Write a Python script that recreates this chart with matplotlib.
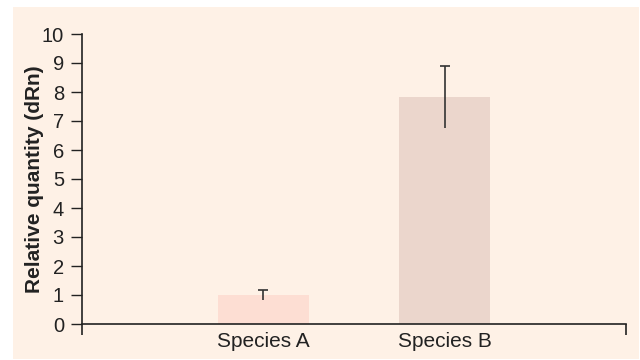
import matplotlib
matplotlib.use("Agg")
import matplotlib.pyplot as plt
from matplotlib.patches import Rectangle

categories = ["Species A", "Species B"]
values = [1.0, 7.83]
errors = [0.16, 1.07]
bar_colors = ["#FDDED3", "#EBD6CC"]
yticks = list(range(0, 11))

plt.rcParams['font.family'] = ['Liberation Sans', 'DejaVu Sans']

fig = plt.figure(figsize=(6.4, 3.6), dpi=100)
fig.patch.set_facecolor("white")
bg = Rectangle((13/640, 1/360), 626/640, 352/360,
               transform=fig.transFigure, facecolor="#FEF1E6",
               edgecolor="none", zorder=-10)
fig.add_artist(bg)

ax = fig.add_axes([82/640, 1 - 324/360, 544/640, 290/360])
ax.set_zorder(1)
ax.set_facecolor("none")
x = [1, 2]
ax.bar(x, values, width=0.5, color=bar_colors, zorder=2)
ax.errorbar(x, values, yerr=errors, fmt="none", ecolor="#333333",
            elinewidth=1.2, capsize=0, zorder=3)
tops = [v + e for v, e in zip(values, errors)]
ax.plot(x, tops, linestyle="none", marker="_", markersize=6.5,
        markeredgewidth=1.2, color="#333333", zorder=3)

ax.set_xlim(0, 3)
ax.set_ylim(0, 10)
ax.set_yticks(yticks)
ax.set_yticklabels([str(t) for t in yticks], fontsize=14.5, color="#222222")
ax.set_xticks([0, 3])
ax.set_xticklabels(["", ""])
ax.set_xticks(x, minor=True)
ax.set_xticklabels(categories, minor=True, fontsize=15, color="#222222")
ax.tick_params(axis="x", which="minor", length=0, pad=5.5)
ax.tick_params(axis="x", which="major", length=8, width=1.2, color="#222222", direction="out")
ax.tick_params(axis="y", length=8, width=1.0, color="#222222", direction="out", pad=5)

for s in ["top", "right"]:
    ax.spines[s].set_visible(False)
for s in ["left", "bottom"]:
    ax.spines[s].set_color("#222222")
    ax.spines[s].set_linewidth(1.2)

ax.set_ylabel("Relative quantity (dRn)", fontsize=15, fontweight="bold",
              color="#222222", labelpad=-2)

fig.savefig("out.png", dpi=100, facecolor=fig.get_facecolor())
